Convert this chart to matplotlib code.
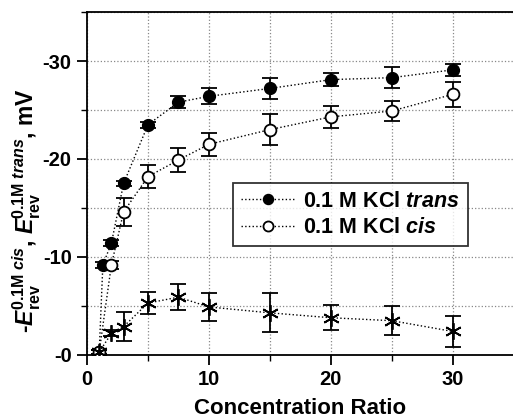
import matplotlib
matplotlib.use("Agg")
import matplotlib.pyplot as plt
from matplotlib.ticker import MultipleLocator, FuncFormatter

plt.rcParams['font.family'] = ['Liberation Sans', 'DejaVu Sans']
plt.rcParams['font.weight'] = 'bold'
plt.rcParams['mathtext.fontset'] = 'custom'
plt.rcParams['mathtext.rm'] = 'Liberation Sans:bold'
plt.rcParams['mathtext.bf'] = 'Liberation Sans:bold'
plt.rcParams['mathtext.it'] = 'Liberation Sans:bold:italic'
plt.rcParams['mathtext.bfit'] = 'Liberation Sans:bold:italic'

# data (plotted as -E, mV)
trans_x = [1, 1.3, 2, 3, 5, 7.5, 10, 15, 20, 25, 30]
trans_y = [0.3, 9.2, 11.4, 17.5, 23.5, 25.8, 26.4, 27.2, 28.1, 28.3, 29.1]
trans_err = [0.2, 0.3, 0.3, 0.3, 0.3, 0.6, 0.8, 1.1, 0.7, 1.1, 0.6]

cis_x = [1, 2, 3, 5, 7.5, 10, 15, 20, 25, 30]
cis_y = [0.3, 9.2, 14.6, 18.2, 19.9, 21.5, 23.0, 24.3, 24.9, 26.6]
cis_err = [0.2, 0.4, 1.4, 1.2, 1.2, 1.2, 1.6, 1.1, 1.0, 1.3]

diff_x = [1, 2, 3, 5, 7.5, 10, 15, 20, 25, 30]
diff_y = [0.3, 2.2, 2.9, 5.3, 5.9, 4.9, 4.3, 3.8, 3.5, 2.4]
diff_err = [0.2, 0.3, 1.5, 1.1, 1.3, 1.4, 2.0, 1.3, 1.5, 1.6]

fig = plt.figure(figsize=(5.13, 4.2), dpi=100)
ax = fig.add_axes([0.1696, 0.1548, 0.832, 0.8166])

ax.errorbar(trans_x, trans_y, yerr=trans_err, fmt='o', color='black', ls=':', lw=1,
            ms=8.5, mfc='black', mec='black', ecolor='black', elinewidth=1.3,
            capsize=6, capthick=1.3, label='0.1 M KCl $\\mathit{trans}$', zorder=3)
ax.errorbar(cis_x, cis_y, yerr=cis_err, fmt='o', color='black', ls=':', lw=1,
            ms=8.5, mfc='white', mec='black', mew=1.3, ecolor='black', elinewidth=1.3,
            capsize=6, capthick=1.3, label='0.1 M KCl $\\mathit{cis}$', zorder=3)
ax.errorbar(diff_x, diff_y, yerr=diff_err, marker=(6, 2, 0), color='black', ls=':', lw=1,
            ms=12, mew=1.3, ecolor='black', elinewidth=1.3,
            capsize=6, capthick=1.3, zorder=3)

ax.set_xlim(0, 35)
ax.set_ylim(0, 35)
ax.xaxis.set_major_locator(MultipleLocator(10))
ax.xaxis.set_minor_locator(MultipleLocator(5))
ax.yaxis.set_major_locator(MultipleLocator(10))
ax.yaxis.set_minor_locator(MultipleLocator(5))
ax.yaxis.set_major_formatter(FuncFormatter(lambda v, p: '-%d' % v))
ax.grid(True, which='both', color='#888888', ls=':', lw=0.9)
ax.set_axisbelow(True)

ax.tick_params(which='major', direction='out', length=7, width=1.3, labelsize=14.5, pad=4)
ax.tick_params(which='minor', direction='out', length=4, width=1.0)
for side in ['left', 'bottom', 'top']:
    ax.spines[side].set_linewidth(1.3)
ax.spines['right'].set_visible(False)

ax.set_xlabel('Concentration Ratio', fontsize=16, fontweight='bold', labelpad=6)
ax.set_ylabel(r'-$\mathbfit{E}_{\mathbf{rev}}^{\mathbf{0.1M}\ \mathbfit{cis}}$, '
              r'$\mathbfit{E}_{\mathbf{rev}}^{\mathbf{0.1M}\ \mathbfit{trans}}$, mV',
              fontsize=16.5, fontweight='bold')
ax.yaxis.set_label_coords(-0.102, 0.42)

handles, labels = ax.get_legend_handles_labels()
handles = [h[0] for h in handles]
leg = ax.legend(handles, labels, loc='upper left', bbox_to_anchor=(0.318, 0.532),
                fontsize=15.5, frameon=True, fancybox=False, edgecolor='black',
                borderpad=0.35, handlelength=2.5, labelspacing=0.25, handletextpad=0.4,
                markerscale=0.85)
leg.get_frame().set_linewidth(1.3)
for t in leg.get_texts():
    t.set_fontweight('bold')

fig.savefig('out.png', dpi=100)
